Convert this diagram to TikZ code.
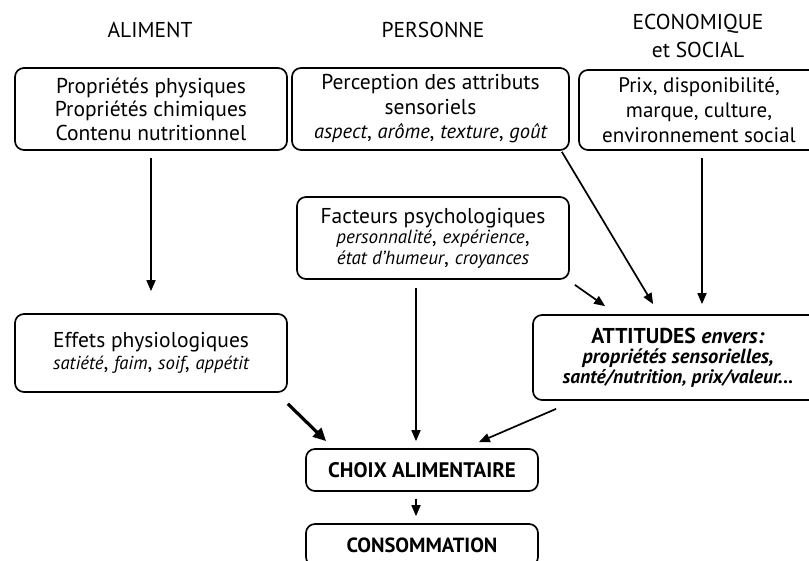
\documentclass[tikz,border=0pt]{standalone}
\usepackage{fontspec}
\setmainfont{PT Sans}
\usetikzlibrary{arrows.meta}
\newcommand\smit[2][19]{{\fontsize{#1}{23}\selectfont\itshape #2}}
\tikzset{
  box/.style={draw, rounded corners=9pt, line width=1.7pt, align=center, inner sep=0pt,
    font=\fontsize{21.5}{23.5}\selectfont},
  hdr/.style={align=center, font=\fontsize{21.5}{28}\selectfont},
  arr/.style={line width=1.7pt, -{Triangle[length=11pt,width=9pt]}},
  thickarr/.style={line width=3.2pt, -{Triangle[length=13pt,width=12pt]}}
}
\begin{document}
\begin{tikzpicture}[x=1pt,y=-1pt]
\useasboundingbox (0,0) rectangle (809,561);
\clip (0,0) rectangle (809,561);
\fill[white] (0,0) rectangle (809,561);
% headers
\node[hdr] (h1) at (150,30) {ALIMENT};
\node[hdr] (h2) at (433,30) {PERSONNE};
\node[hdr] (h3) at (698,36) {ECONOMIQUE\\et SOCIAL};
% top boxes
\node[box, minimum width=272pt, minimum height=82pt] (a1) at (151,109)
  {Propriétés physiques\\Propriétés chimiques\\Contenu nutritionnel};
\node[box, minimum width=277pt, minimum height=82pt, font=\fontsize{21.5}{24.5}\selectfont] (p1) at (430.5,109)
  {Perception des attributs\\sensoriels\\\smit[20.5]{aspect}, \smit[20.5]{arôme}, \smit[20.5]{texture}, \smit[20.5]{goût}};
\node[box, minimum width=240pt, minimum height=80pt, font=\fontsize{21}{25}\selectfont] (e1) at (699,110)
  {Prix, disponibilité,\\marque, culture,\\environnement social};
% middle
\node[box, minimum width=272pt, minimum height=82pt, font=\fontsize{21.5}{20.5}\selectfont] (fac) at (433,238)
  {Facteurs psychologiques\\\smit{personnalité}, \smit{expérience},\\\smit{état d'humeur}, \smit{croyances}};
\node[box, minimum width=272pt, minimum height=78pt, font=\fontsize{21.5}{22}\selectfont] (eff) at (151,353)
  {Effets physiologiques\\\smit[18.7]{satiété}, \smit[18.7]{faim}, \smit[18.7]{soif}, \smit[18.7]{appétit}};
\node[box, minimum width=290pt, minimum height=85pt, font=\fontsize{20}{20}\selectfont\bfseries] (att) at (678,357.5)
  {{\fontsize{21.5}{20}\selectfont ATTITUDES \textit{envers:}}\\{\fontsize{20.5}{20}\selectfont\itshape propriétés sensorielles,}\\{\fontsize{19.5}{20}\selectfont\itshape santé/nutrition, prix/valeur...}};
% bottom
\node[box, minimum width=232pt, minimum height=42pt, font=\fontsize{21}{22}\selectfont\bfseries] (choix) at (422,470)
  {CHOIX ALIMENTAIRE};
\node[box, minimum width=232pt, minimum height=42pt, font=\fontsize{20.5}{22}\selectfont\bfseries] (cons) at (422,545)
  {CONSOMMATION};
% arrows
\draw[arr] ([yshift=-7pt]a1.south) -- ([yshift=22pt]eff.north);
\draw[arr] ([shift={(3pt,-7pt)}]e1.south) -- ([shift={(24pt,10pt)}]att.north);
\draw[arr] ([shift={(-8pt,-1pt)}]p1.south east) -- ([shift={(121pt,10pt)}]att.north west);
\draw[arr] ([shift={(5pt,-5pt)}]fac.south east) -- ([shift={(73pt,8pt)}]att.north west);
\draw[arr] ([shift={(-17pt,-8pt)}]fac.south) -- ([shift={(-6pt,7pt)}]choix.north);
\draw[thickarr] ([shift={(0pt,-11pt)}]eff.south east) -- ([shift={(21pt,7pt)}]choix.north west);
\draw[arr] ([shift={(24pt,-8pt)}]att.south west) -- ([shift={(-60pt,6pt)}]choix.north east);
\draw[arr] ([shift={(-6pt,-7pt)}]choix.south) -- ([shift={(-6pt,7pt)}]cons.north);
\end{tikzpicture}
\end{document}
